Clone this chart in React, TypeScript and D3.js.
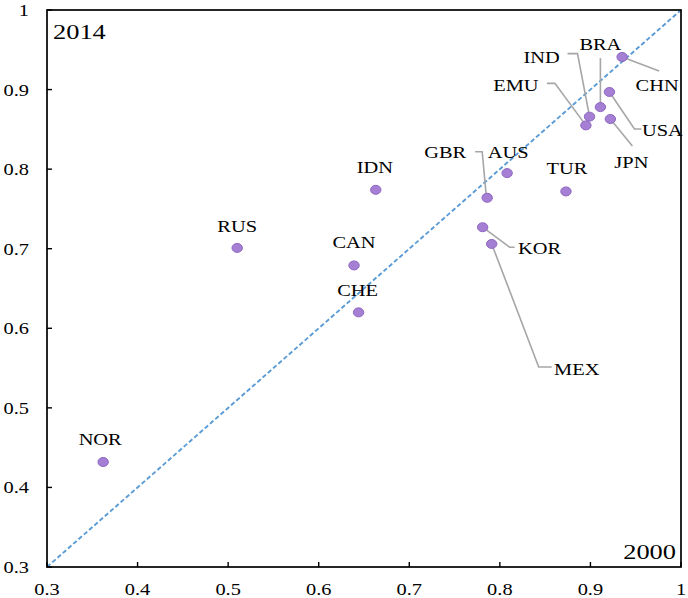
import React from "react";
import * as d3 from "d3";

const countries = ["NOR","RUS","CAN","CHE","IDN","GBR","AUS","TUR","KOR","MEX","EMU","IND","BRA","USA","JPN","CHN"];
const value2000 = [0.362,0.510,0.639,0.644,0.663,0.786,0.808,0.873,0.781,0.791,0.895,0.899,0.911,0.921,0.922,0.935];
const value2014 = [0.432,0.701,0.679,0.620,0.774,0.764,0.795,0.772,0.727,0.706,0.855,0.866,0.878,0.897,0.863,0.941];
const ticks = [0.3,0.4,0.5,0.6,0.7,0.8,0.9,1];

// label layout: offset of text centre from point, and leader polyline offsets (px)
const labelLayout: Record<string, { dx: number; dy: number; leader?: [number, number][] }> = {
  NOR: { dx: -3, dy: -23 },
  RUS: { dx: 0, dy: -22 },
  CAN: { dx: 0, dy: -23 },
  CHE: { dx: -1, dy: -22 },
  IDN: { dx: -1, dy: -23 },
  AUS: { dx: 1, dy: -21 },
  TUR: { dx: 1, dy: -23 },
  GBR: { dx: -42, dy: -46, leader: [[-1, -3], [-5, -46], [-12, -46]] },
  KOR: { dx: 57, dy: 21, leader: [[0, 0], [27, 20], [32, 20]] },
  MEX: { dx: 85, dy: 125, leader: [[0, 0], [47, 123], [60, 123]] },
  CHN: { dx: 35, dy: 28, leader: [[0, 0], [37, 14]] },
  USA: { dx: 53, dy: 38, leader: [[0, 0], [25, 37], [32, 37]] },
  JPN: { dx: 21, dy: 43, leader: [[0, 0], [22, 27]] },
  BRA: { dx: 0, dy: -63, leader: [[0, 0], [0, -49]] },
  IND: { dx: -48, dy: -60, leader: [[0, 0], [-12, -63], [-22, -63]] },
  EMU: { dx: -70, dy: -40, leader: [[0, 0], [-31, -42], [-39, -42]] },
};

const W = 688, H = 598;
const L = 47, R = 681, T = 10, B = 567;
const SX = 1.2;
const FONT = "'Liberation Serif', 'Times New Roman', serif";

export default function App() {
  const x = d3.scaleLinear().domain([0.3, 1]).range([L, R]);
  const y = d3.scaleLinear().domain([0.3, 1]).range([B, T]);
  const line = d3.line<[number, number]>();

  const Txt = (props: { x: number; y: number; size: number; anchor?: string; children: React.ReactNode }) => (
    <text
      transform={`translate(${props.x},${props.y}) scale(${SX},1)`}
      fontSize={props.size}
      fontFamily={FONT}
      textAnchor={props.anchor || "middle"}
      dy="0.35em"
      fill="#000"
    >
      {props.children}
    </text>
  );

  return (
    <div style={{ position: "absolute", left: 0, top: 0 }}>
      <svg width={W} height={H} style={{ display: "block", background: "#fff" }}>
        <rect x={0} y={0} width={W} height={H} fill="#fff" />
        {/* diagonal */}
        <line x1={x(0.3)} y1={y(0.3)} x2={x(1)} y2={y(1)} stroke="#5B9BD5" strokeWidth={1.9} strokeDasharray="4.5,2.5" />
        {/* frame */}
        <rect x={L} y={T} width={R - L} height={B - T} fill="none" stroke="#000" strokeWidth={1.7} />
        {/* ticks */}
        {ticks.map((t) => (
          <g key={"t" + t}>
            <line x1={x(t)} x2={x(t)} y1={B} y2={B - 5} stroke="#000" strokeWidth={1.4} />
            <line x1={L} x2={L + 5} y1={y(t)} y2={y(t)} stroke="#000" strokeWidth={1.4} />
            <Txt x={x(t)} y={589} size={17}>{String(t)}</Txt>
            <Txt x={29} y={y(t)} size={17} anchor="end">{String(t)}</Txt>
          </g>
        ))}
        <Txt x={53} y={31} size={22} anchor="start">2014</Txt>
        <Txt x={676} y={551} size={22} anchor="end">2000</Txt>
        {/* leaders */}
        {countries.map((c, i) => {
          const lay = labelLayout[c];
          if (!lay.leader) return null;
          const px = x(value2000[i]), py = y(value2014[i]);
          const pts = lay.leader.map(([a, b]) => [px + a, py + b] as [number, number]);
          return <path key={"l" + c} d={line(pts) || ""} fill="none" stroke="#A6A6A6" strokeWidth={1.6} />;
        })}
        {/* points */}
        {countries.map((c, i) => (
          <ellipse
            key={"p" + c}
            cx={x(value2000[i])}
            cy={y(value2014[i])}
            rx={5.2}
            ry={4.5}
            fill="#A57FD3"
            stroke="#8E66C2"
            strokeWidth={1}
          />
        ))}
        {/* labels */}
        {countries.map((c, i) => {
          const lay = labelLayout[c];
          return (
            <Txt key={"txt" + c} x={x(value2000[i]) + lay.dx} y={y(value2014[i]) + lay.dy} size={17}>
              {c}
            </Txt>
          );
        })}
      </svg>
    </div>
  );
}
